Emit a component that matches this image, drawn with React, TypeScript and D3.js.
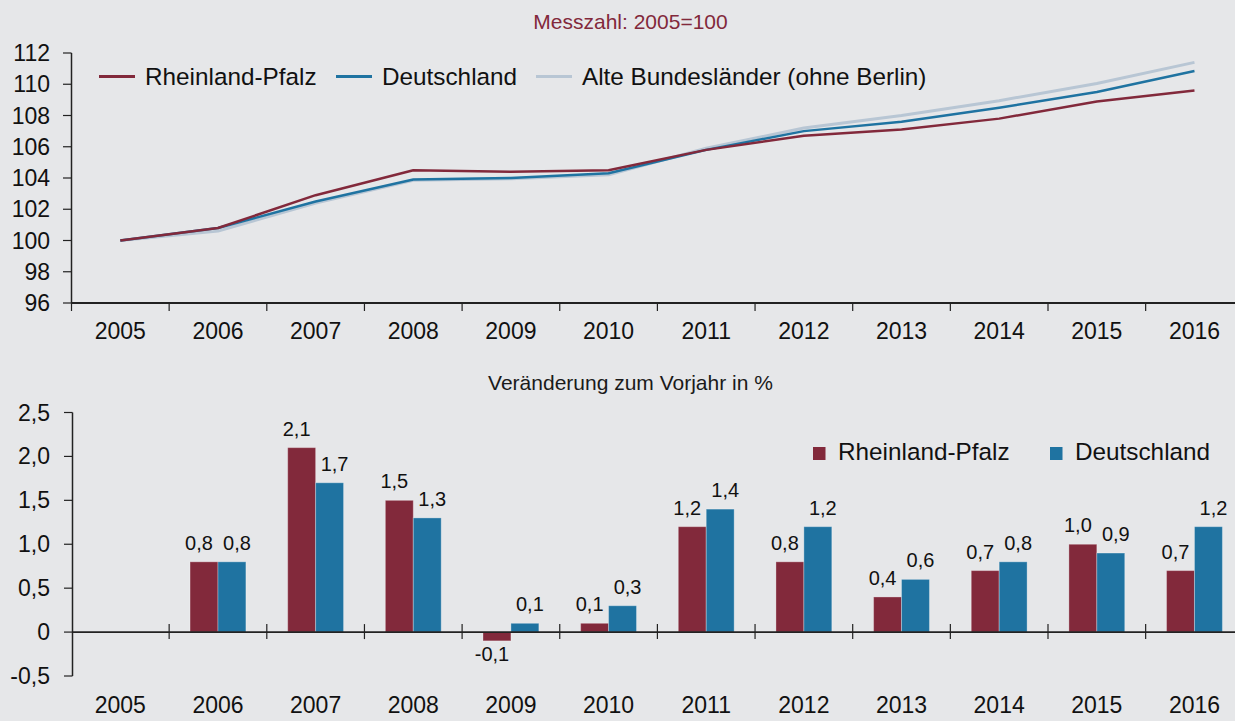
import React from 'react';
import * as d3 from 'd3';

// chart data
const years = ['2005', '2006', '2007', '2008', '2009', '2010', '2011', '2012', '2013', '2014', '2015', '2016'];

// Messzahl 2005 = 100
const indexRP = [100, 100.8, 102.9, 104.5, 104.4, 104.5, 105.8, 106.7, 107.1, 107.8, 108.9, 109.6];
const indexDE = [100, 100.8, 102.5, 103.9, 104.0, 104.3, 105.8, 107.0, 107.6, 108.5, 109.5, 110.85];
const indexABL = [100, 100.6, 102.4, 103.85, 103.95, 104.2, 105.9, 107.2, 108.0, 108.95, 110.05, 111.4];

// Veraenderung zum Vorjahr in %
const changeRP = [null, 0.8, 2.1, 1.5, -0.1, 0.1, 1.2, 0.8, 0.4, 0.7, 1.0, 0.7];
const changeDE = [null, 0.8, 1.7, 1.3, 0.1, 0.3, 1.4, 1.2, 0.6, 0.8, 0.9, 1.2];

const topTicks = [96, 98, 100, 102, 104, 106, 108, 110, 112];
const bottomTicks = [-0.5, 0, 0.5, 1.0, 1.5, 2.0, 2.5];

const W = 1235;
const H = 721;
const FONT = '"Liberation Sans", Arial, Helvetica, sans-serif';
const BG = '#e6e7e9';
const RED = '#82293b';
const BLUE = '#1f73a1';
const GREY = '#b8c6d4';
const AXIS = '#222';

// german number format, plain hyphen for negatives
const fmt = (v: number) => (v === 0 ? '0' : v.toFixed(1).replace('.', ','));

const App = () => {
    // shared x band scale (chart runs off the right edge like the source)
    const x = d3.scaleBand<string>().domain(years).range([71.5, 71.5 + 97.65 * years.length]);
    const bw = x.bandwidth();
    const cx = (y: string) => (x(y) as number) + bw / 2;

    // ---- top line chart
    const yTop = d3.scaleLinear().domain([96, 112]).range([303, 53]);
    const line = d3.line<number>()
        .x((_, i) => cx(years[i]))
        .y((d) => yTop(d));

    const lineSeries = [
        {name: 'Alte Bundesländer (ohne Berlin)', values: indexABL, color: GREY, width: 3},
        {name: 'Deutschland', values: indexDE, color: BLUE, width: 2.5},
        {name: 'Rheinland-Pfalz', values: indexRP, color: RED, width: 2.5},
    ];
    const topLegend = [
        {name: 'Rheinland-Pfalz', color: RED, x: 99},
        {name: 'Deutschland', color: BLUE, x: 336},
        {name: 'Alte Bundesländer (ohne Berlin)', color: GREY, x: 536},
    ];

    // ---- bottom bar chart
    const yBot = d3.scaleLinear().domain([-0.5, 2.5]).range([676, 412.5]);
    const groupW = bw * 0.572;
    const x1 = d3.scaleBand<string>().domain(['RP', 'DE']).range([0, groupW]);
    const barSeries = [
        {key: 'RP', values: changeRP, color: RED, dx: -5},
        {key: 'DE', values: changeDE, color: BLUE, dx: 5},
    ];
    const botLegend = [
        {name: 'Rheinland-Pfalz', color: RED, x: 813},
        {name: 'Deutschland', color: BLUE, x: 1050},
    ];

    return (
        <svg width={W} height={H} style={{position: 'absolute', left: 0, top: 0, display: 'block'}}
             fontFamily={FONT}>
            <rect width={W} height={H} fill={BG}/>

            {/* titles */}
            <text x={630.5} y={29} textAnchor="middle" fontSize={21} fill={RED}>Messzahl: 2005=100</text>
            <text x={630.5} y={390} textAnchor="middle" fontSize={21} fill="#1a1a1a">Veränderung zum Vorjahr in %</text>

            {/* top axes */}
            <g>
                <line x1={71.5} x2={71.5} y1={yTop(112)} y2={yTop(96)} stroke={AXIS} strokeWidth={1.5}/>
                <line x1={71.5} x2={W} y1={yTop(96)} y2={yTop(96)} stroke={AXIS} strokeWidth={1.8}/>
                {topTicks.map((t) => (
                    <g key={t}>
                        <line x1={63} x2={71.5} y1={yTop(t)} y2={yTop(t)} stroke={AXIS} strokeWidth={1.2}/>
                        <text x={50} y={yTop(t) + 8} textAnchor="end" fontSize={23} fill="#111">{t}</text>
                    </g>
                ))}
                {years.map((y) => (
                    <g key={y}>
                        <line x1={x(y)} x2={x(y)} y1={yTop(96)} y2={yTop(96) + 8} stroke={AXIS} strokeWidth={1.2}/>
                        <text x={cx(y)} y={339} textAnchor="middle" fontSize={23} fill="#111">{y}</text>
                    </g>
                ))}
            </g>

            {/* lines */}
            {lineSeries.map((s) => (
                <path key={s.name} d={line(s.values) || ''} fill="none" stroke={s.color}
                      strokeWidth={s.width} strokeLinejoin="round"/>
            ))}

            {/* top legend */}
            {topLegend.map((l) => (
                <g key={l.name}>
                    <line x1={l.x} x2={l.x + 36} y1={76.5} y2={76.5} stroke={l.color} strokeWidth={3}/>
                    <text x={l.x + 46} y={85} fontSize={24.3} fill="#111">{l.name}</text>
                </g>
            ))}

            {/* bottom axes */}
            <g>
                <line x1={72.5} x2={72.5} y1={yBot(2.5)} y2={yBot(-0.5)} stroke={AXIS} strokeWidth={1.5}/>
                {bottomTicks.map((t) => (
                    <g key={t}>
                        <line x1={64} x2={72.5} y1={yBot(t)} y2={yBot(t)} stroke={AXIS} strokeWidth={1.2}/>
                        <text x={50} y={yBot(t) + 8} textAnchor="end" fontSize={23} fill="#111">{fmt(t)}</text>
                    </g>
                ))}
                {years.map((y) => (
                    <text key={y} x={cx(y)} y={713} textAnchor="middle" fontSize={23} fill="#111">{y}</text>
                ))}
            </g>

            {/* bars */}
            {barSeries.map((s) => (
                <g key={s.key}>
                    {s.values.map((v, i) => {
                        if (v === null) return null;
                        const bx = cx(years[i]) - groupW / 2 + (x1(s.key) as number);
                        const top = yBot(Math.max(0, v));
                        const bottom = yBot(Math.min(0, v));
                        const lx = bx + x1.bandwidth() / 2 + s.dx;
                        const ly = v >= 0 ? top - 12 : bottom + 20;
                        return (
                            <g key={i}>
                                <rect x={bx} y={top} width={x1.bandwidth()} height={bottom - top}
                                      fill={s.color} stroke="rgba(255,255,255,0.3)" strokeWidth={1}/>
                                <text x={lx} y={ly} textAnchor="middle" fontSize={20} fill="#111">{fmt(v)}</text>
                            </g>
                        );
                    })}
                </g>
            ))}

            {/* zero line with crossing ticks */}
            <line x1={72.5} x2={W} y1={yBot(0)} y2={yBot(0)} stroke={AXIS} strokeWidth={1.8}/>
            {years.slice(1).map((y) => (
                <line key={y} x1={x(y)} x2={x(y)} y1={yBot(0) - 8} y2={yBot(0) + 7} stroke={AXIS} strokeWidth={1.2}/>
            ))}

            {/* bottom legend */}
            {botLegend.map((l) => (
                <g key={l.name}>
                    <rect x={l.x} y={447} width={12.5} height={13} fill={l.color}/>
                    <text x={l.x + 25} y={460} fontSize={24.3} fill="#111">{l.name}</text>
                </g>
            ))}
        </svg>
    );
};

export default App;
